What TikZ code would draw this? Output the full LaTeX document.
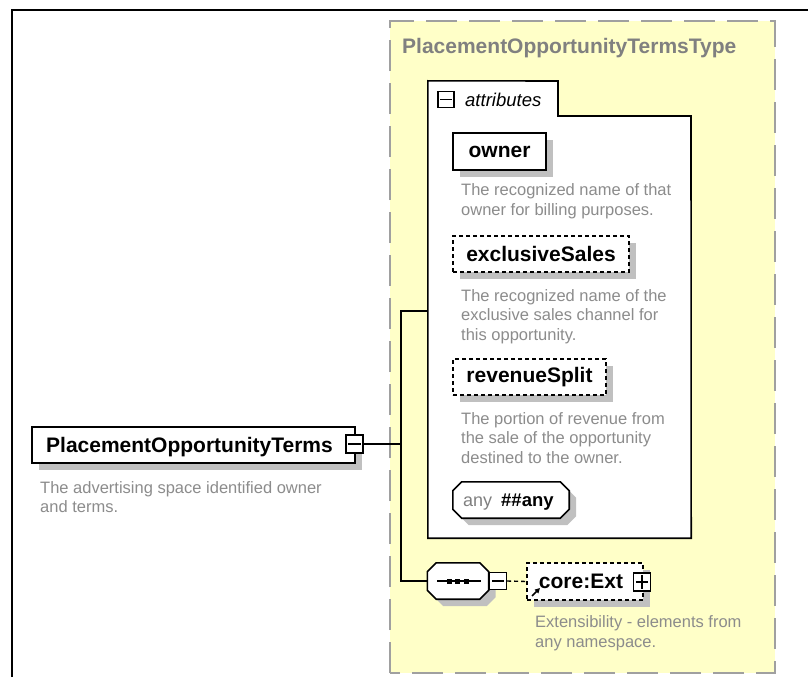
\documentclass[tikz,border=0pt]{standalone}
\usepackage{fontspec}
\setmainfont{Liberation Sans}
\usetikzlibrary{shadows,arrows.meta}
\definecolor{yfill}{RGB}{255,255,200}
\definecolor{yborder}{RGB}{160,160,160}
\definecolor{shgray}{RGB}{192,192,192}
\definecolor{dgray}{RGB}{128,128,128}
\definecolor{tgray}{RGB}{140,140,140}
\newcommand\nmfont{\fontsize{21}{25}\selectfont\bfseries}
\newcommand\dsfont{\fontsize{16.5}{20}\selectfont}
\tikzset{
  elem/.style={draw=black, line width=1.6pt, fill=white, inner sep=0pt,
    font=\nmfont, drop shadow={shadow xshift=7pt, shadow yshift=-7pt, fill=shgray, opacity=1}},
  optelem/.style={elem, dash pattern=on 4pt off 3pt},
  desc/.style={anchor=base west, inner sep=0pt, font=\dsfont, text=tgray},
  pmbox/.style={draw=black, line width=1.4pt, fill=white, minimum width=17pt, minimum height=17pt, inner sep=0pt},
  conn/.style={draw=black, line width=1.6pt},
  octframe/.style={inner sep=0pt},
  octpath/.style 2 args={insert path={
    ([shift={#2}, xshift=9pt]#1.north west) -- ([shift={#2}, xshift=-9pt]#1.north east) --
    ([shift={#2}, yshift=-9pt]#1.north east) -- ([shift={#2}, yshift=9pt]#1.south east) --
    ([shift={#2}, xshift=-9pt]#1.south east) -- ([shift={#2}, xshift=9pt]#1.south west) --
    ([shift={#2}, yshift=9pt]#1.south west) -- ([shift={#2}, yshift=-9pt]#1.north west) -- cycle}},
}
\begin{document}
\begin{tikzpicture}[x=1pt,y=-1pt]
\useasboundingbox (0,0) rectangle (808,677);
\fill[white] (0,0) rectangle (808,677);
% outer frame
\coordinate (fbl) at (12,677);
\coordinate (ftl) at (12,10);
\coordinate (ftr) at (808,10);
\draw[line width=1.6pt] (fbl) -- (ftl) -- (ftr);
% type region
\fill[yfill] (390,21) rectangle (775,673);
\draw[yborder, line width=2pt, dash pattern=on 31pt off 12pt] (390,673) -- (390,21) -- (775,21) -- (775,673) -- cycle;
\node[anchor=base west, inner sep=0pt, font=\nmfont, text=dgray] (ttitle) at (402,53) {PlacementOpportunityTermsType};
% attributes box
\node[minimum width=263pt, minimum height=457pt, inner sep=0pt] (attr) at (559.5,309.5) {};
\draw[line width=1.6pt, fill=white] (attr.south west) -- (attr.north west) -- (558,81) -- (558,116) -- (691,116) -- (attr.south east) -- cycle;
\node[pmbox, minimum width=16pt, minimum height=16pt] (attrm) at (446,99.5) {};
\draw[line width=1.4pt] ([xshift=3pt]attrm.west) -- ([xshift=-3pt]attrm.east);
\node[anchor=base west, inner sep=0pt, font=\fontsize{18.5}{22}\selectfont\itshape] (attrt) at (465,106) {attributes};
% owner
\node[elem, minimum width=93pt, minimum height=37pt] (owner) at (499.5,151.5) {owner};
\node[desc] (d1a) at (461,195) {The recognized name of that};
\node[desc] (d1b) at (461,215) {owner for billing purposes.};
% exclusiveSales
\node[optelem, minimum width=176pt, minimum height=36pt] (excl) at (541,254) {exclusiveSales};
\node[desc] (d2a) at (461,301) {The recognized name of the};
\node[desc] (d2b) at (461,320.5) {exclusive sales channel for};
\node[desc] (d2c) at (461,340) {this opportunity.};
% revenueSplit
\node[optelem, minimum width=153pt, minimum height=36pt] (rev) at (529.5,377) {revenueSplit};
\node[desc] (d3a) at (461,424) {The portion of revenue from};
\node[desc] (d3b) at (461,443.5) {the sale of the opportunity};
\node[desc] (d3c) at (461,463) {destined to the owner.};
% any
\node[octframe, minimum width=116pt, minimum height=36pt] (any) at (511,500) {};
\fill[shgray, octpath={any}{(7pt,-7pt)}];
\draw[line width=1.6pt, fill=white, octpath={any}{(0pt,0pt)}];
\node[anchor=base west, inner sep=0pt, font=\fontsize{18}{22}\selectfont, text=dgray] (anyt) at (463,506) {any};
\node[anchor=base west, inner sep=0pt, font=\fontsize{18.5}{22}\selectfont\bfseries] (anyv) at (501,506) {\#\#any};
% root element
\node[elem, minimum width=323pt, minimum height=36pt] (pot) at (193.5,445) {};
\node[inner sep=0pt, font=\nmfont, anchor=base] (pott) at (189.5,452) {PlacementOpportunityTerms};
\node[pmbox, minimum width=17pt, minimum height=18pt] (potm) at (354.5,444) {};
\draw[line width=1.4pt] ([xshift=3pt]potm.west) -- ([xshift=-3pt]potm.east);
\node[desc] (d0a) at (40,493) {The advertising space identified owner};
\node[desc] (d0b) at (40,512.5) {and terms.};
% sequence
\node[octframe, minimum width=61pt, minimum height=36pt] (seq) at (458,581) {};
\fill[shgray, octpath={seq}{(7pt,-7pt)}];
\draw[line width=1.6pt, fill=white, octpath={seq}{(0pt,0pt)}];
\coordinate (sqa) at (437,581);
\coordinate (sqb) at (481,581);
\draw[line width=1.5pt] (sqa) -- (sqb);
\foreach \xx/\nm in {449/sd1,457.5/sd2,466/sd3} {
  \node[fill=black, minimum size=5pt, inner sep=0pt] (\nm) at (\xx,581) {};
}
\node[pmbox, minimum width=17pt, minimum height=17pt] (seqm) at (498,581) {};
\draw[line width=1.4pt] ([xshift=3pt]seqm.west) -- ([xshift=-3pt]seqm.east);
% core:Ext
\node[optelem, minimum width=116pt, minimum height=37pt] (ext) at (585,581.5) {};
\node[inner sep=0pt, font=\nmfont, anchor=base] (extt) at (581,588) {core:Ext};
\node[pmbox, minimum width=17pt, minimum height=18pt] (extp) at (642,582) {};
\draw[line width=1.4pt] ([xshift=3pt]extp.west) -- ([xshift=-3pt]extp.east);
\draw[line width=1.4pt] ([yshift=-3pt]extp.north) -- ([yshift=3pt]extp.south);
\coordinate (ara) at (532,596);
\coordinate (arb) at (540,588);
\draw[line width=1.6pt, -{Triangle[length=5pt,width=5pt]}] (ara) -- (arb);
\node[desc] (d4a) at (535,627) {Extensibility - elements from};
\node[desc] (d4b) at (535,647) {any namespace.};
% connectors
\coordinate (jn) at (401,444);
\coordinate (attrin) at (attr.west |- 0,311);
\draw[conn] (potm.east) -- (jn);
\draw[conn] (attrin) -| (jn) |- (seq.west);
\draw[line width=1.4pt, dash pattern=on 4pt off 3pt] (seqm.east) -- (ext.west);
\end{tikzpicture}
\end{document}
